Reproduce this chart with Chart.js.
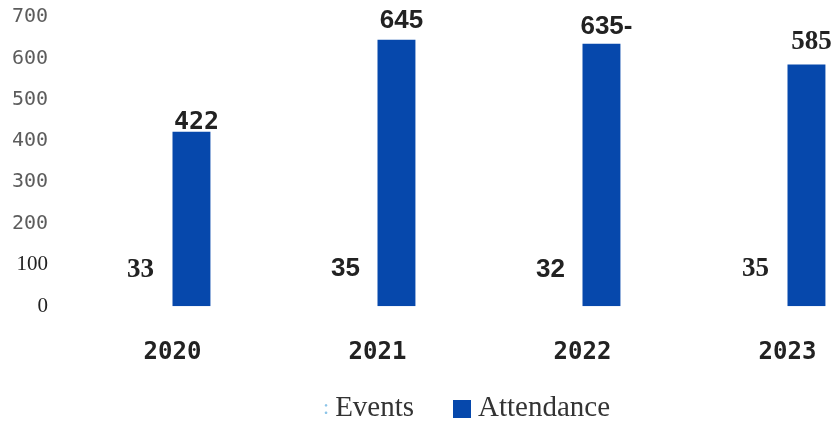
<!DOCTYPE html>
<html>
<head>
<meta charset="utf-8">
<title>Events and Attendance</title>
<script src="https://cdn.jsdelivr.net/npm/chart.js@4.4.1/dist/chart.umd.min.js"></script>
<style>
  html, body { margin: 0; padding: 0; background: #fff; }
  #wrap { position: relative; width: 837px; height: 424px; overflow: hidden; }
  #legend {
    position: absolute; left: 323px; top: 390px;
    display: flex; align-items: center;
    font-family: "Liberation Serif", serif; font-size: 29px; color: #333;
  }
  #legend .dots { color: #8cc4e8; font-size: 22px; margin-right: 6px; }
  #legend .box { width: 18px; height: 18px; background: #0648ac; margin: 4px 7px 0 39px; }
</style>
</head>
<body>
<div id="wrap">
  <canvas id="chart" width="900" height="424"></canvas>
  <div id="legend">
    <span class="dots">:</span><span>Events</span>
    <span class="box"></span><span>Attendance</span>
  </div>
</div>
<script>
// yearly figures
const years = ["2020", "2021", "2022", "2023"];
const events = [33, 35, 32, 35];
const attendance = [422, 645, 635, 585];
const attendanceText = ["422", "645", "635-", "585"];
const yTicks = [0, 100, 200, 300, 400, 500, 600, 700];

const barBlue = "#0648ac";
const eventFonts = ['bold 27px "Liberation Serif"', 'bold 26px "Liberation Sans"', 'bold 26px "Liberation Sans"', 'bold 27px "Liberation Serif"'];
const attendFonts = ['bold 25px "DejaVu Sans Mono"', 'bold 26px "Liberation Sans"', 'bold 26px "Liberation Sans"', 'bold 27px "Liberation Serif"'];
const attendLift = [3, 12, 10, 16]; // gap between bar top and its label

// value labels over the bars
const valueLabels = {
  id: "valueLabels",
  afterDatasetsDraw(chart) {
    const ctx = chart.ctx;
    ctx.save();
    ctx.fillStyle = "#222";
    ctx.textAlign = "center";
    chart.getDatasetMeta(0).data.forEach((bar, i) => {
      ctx.font = eventFonts[i];
      ctx.textBaseline = "middle";
      ctx.fillText(String(events[i]), bar.x - 13, bar.y - 23);
    });
    chart.getDatasetMeta(1).data.forEach((bar, i) => {
      ctx.font = attendFonts[i];
      ctx.textBaseline = "alphabetic";
      ctx.fillText(attendanceText[i], bar.x + 5, bar.y - attendLift[i]);
    });
    ctx.restore();
  }
};

new Chart(document.getElementById("chart"), {
  type: "bar",
  data: {
    labels: years,
    datasets: [
      { label: "Events", data: events, backgroundColor: "rgba(255,255,255,0)" },
      { label: "Attendance", data: attendance, backgroundColor: barBlue }
    ]
  },
  options: {
    responsive: false,
    animation: false,
    devicePixelRatio: 1,
    layout: { padding: { top: 17, left: 10, right: 10, bottom: 25 } },
    datasets: { bar: { categoryPercentage: 0.37, barPercentage: 1 } },
    plugins: { legend: { display: false }, tooltip: { enabled: false } },
    scales: {
      x: {
        grid: { display: false, drawTicks: false },
        border: { display: false },
        ticks: {
          padding: 32,
          color: "#222",
          font: { family: "DejaVu Sans Mono", weight: "bold", size: 24 }
        }
      },
      y: {
        min: 0,
        max: 700,
        grid: { display: false, drawTicks: false },
        border: { display: false },
        // fixed axis width; the top label may sit right at the canvas padding
        afterFit(scale) { scale.width = 60; scale.paddingTop = 0; },
        afterBuildTicks(scale) { scale.ticks = yTicks.map(v => ({ value: v })); },
        ticks: {
          padding: 22,
          color: c => (c.tick && c.tick.value <= 100 ? "#222" : "#5c5c5c"),
          font: c => (c.tick && c.tick.value <= 100
            ? { family: "Liberation Serif", size: 21 }
            : { family: "DejaVu Sans Mono", size: 20 })
        }
      }
    }
  },
  plugins: [valueLabels]
});
</script>
</body>
</html>
